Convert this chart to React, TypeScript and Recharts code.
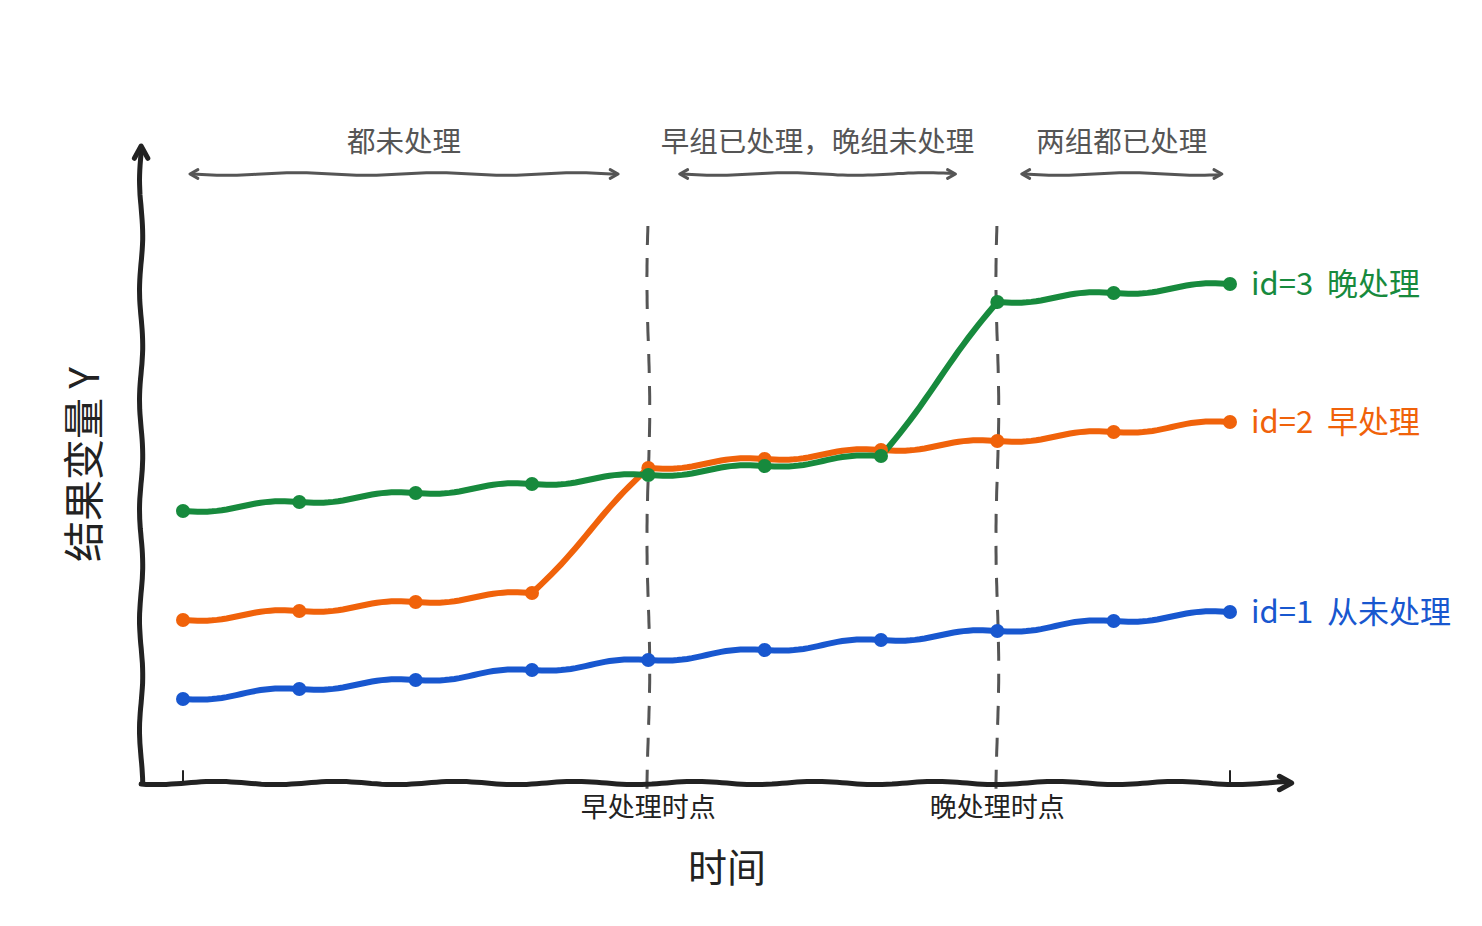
import { LineChart, Line, XAxis, YAxis, ReferenceLine, LabelList } from "recharts";

// periods and outcome per unit
const periods = [0, 1, 2, 3, 4, 5, 6, 7, 8, 9];
const neverTreated = [8.4, 9.4, 10.3, 11.3, 12.3, 13.3, 14.3, 15.2, 16.2, 17.1];
const earlyTreated = [16.3, 17.2, 18.1, 19.0, 31.5, 32.4, 33.3, 34.2, 35.1, 36.1];
const lateTreated = [27.2, 28.1, 29.0, 29.9, 30.8, 31.7, 32.7, 48.1, 49.0, 49.9];
const seriesNames = ["id=1  从未处理", "id=2  早处理", "id=3  晚处理"];

const eventTimes = [4, 7];
const eventLabels = ["早处理时点", "晚处理时点"];
const phaseLabels = ["都未处理", "早组已处理，晚组未处理", "两组都已处理"];
const phaseStarts = [0.06, 4.27, 7.21];
const phaseEnds = [3.74, 6.64, 8.93];

const data = periods.map((t, i) => ({
    t,
    never: neverTreated[i],
    early: earlyTreated[i],
    late: lateTreated[i],
}));

const FONT = '"Noto Sans CJK SC", "Noto Sans", sans-serif';
const INK = "#222222";
const GREY = "#555555";
const BLUE = "#1857cf";
const ORANGE = "#f0620a";
const GREEN = "#178a3d";

// hand drawn looking path between two points
function wobble(x1: number, y1: number, x2: number, y2: number, amp: number, wave: number, phase = 0) {
    const dx = x2 - x1;
    const dy = y2 - y1;
    const len = Math.hypot(dx, dy) || 1;
    const nx = -dy / len;
    const ny = dx / len;
    const n = Math.max(2, Math.round(len / 5));
    let d = "";
    for (let i = 0; i <= n; i++) {
        const t = i / n;
        const off = amp * Math.sin((2 * Math.PI * t * len) / wave + phase);
        const x = x1 + dx * t + nx * off;
        const y = y1 + dy * t + ny * off;
        d += (i === 0 ? "M" : "L") + x.toFixed(1) + "," + y.toFixed(1);
    }
    return d;
}

// d3 style curve: straight segments with a small sketchy wave
function sketchCurve(context: any) {
    let n = 0;
    let px = 0;
    let py = 0;
    return {
        areaStart() {},
        areaEnd() {},
        lineStart() {
            n = 0;
        },
        lineEnd() {},
        point(x: number, y: number) {
            x = +x;
            y = +y;
            if (n === 0) {
                context.moveTo(x, y);
            } else {
                const steps = 24;
                for (let i = 1; i <= steps; i++) {
                    const t = i / steps;
                    const off = 2.6 * Math.sin(2 * Math.PI * t);
                    context.lineTo(px + (x - px) * t, py + (y - py) * t + off);
                }
            }
            px = x;
            py = y;
            n++;
        },
    };
}

function head(tx: number, ty: number, fx: number, fy: number, size: number) {
    const a = Math.atan2(ty - fy, tx - fx);
    const s = 0.5;
    const ax = tx - size * Math.cos(a - s);
    const ay = ty - size * Math.sin(a - s);
    const bx = tx - size * Math.cos(a + s);
    const by = ty - size * Math.sin(a + s);
    return `M${ax},${ay}L${tx},${ty}L${bx},${by}`;
}

const XAxisShape = (p: any) => (
    <g>
        <path d={wobble(p.x1, p.y1, p.x2 - 4, p.y2, 1.6, 120, 0.8)} stroke={INK} strokeWidth={5} fill="none" strokeLinecap="round" />
        <path d={head(p.x2, p.y2, p.x1, p.y1, 14)} stroke={INK} strokeWidth={5} fill="none" strokeLinecap="round" strokeLinejoin="round" />
        <text x={p.x1 + 586} y={p.y1 + 82} textAnchor="middle" dominantBaseline="central" fontSize={39} fill={INK} fontFamily={FONT}>
            时间
        </text>
    </g>
);

const YAxisShape = (p: any) => {
    const bottom = Math.max(p.y1, p.y2);
    const top = Math.min(p.y1, p.y2);
    const cx = p.x1 - 60;
    const cy = (top + bottom) / 2;
    return (
        <g>
            <path d={wobble(p.x1, bottom, p.x1, top + 4, 1.6, 110, 1.7)} stroke={INK} strokeWidth={5} fill="none" strokeLinecap="round" />
            <path d={head(p.x1, top, p.x1, bottom, 14)} stroke={INK} strokeWidth={5} fill="none" strokeLinecap="round" strokeLinejoin="round" />
            <text
                x={cx}
                y={cy}
                textAnchor="middle"
                dominantBaseline="central"
                fontSize={41}
                fill={INK}
                fontFamily={FONT}
                transform={`rotate(-90 ${cx} ${cy})`}
                style={{ whiteSpace: "pre" }}
            >
                结果变量 Y
            </text>
        </g>
    );
};

const TickShape = (p: any) => (
    <path d={`M${p.x1},${p.y1}L${p.x2},${p.y2}`} stroke={INK} strokeWidth={2} strokeLinecap="round" />
);

const makeEventShape = (label: string) => (p: any) => {
    const bottom = Math.max(p.y1, p.y2);
    const top = Math.min(p.y1, p.y2);
    return (
        <g>
            <path d={wobble(p.x1, top, p.x1, bottom, 1.4, 260, 0.3)} stroke={GREY} strokeWidth={3} fill="none" strokeDasharray="19 13" />
            <text x={p.x1} y={bottom + 13} textAnchor="middle" dominantBaseline="central" fontSize={27} fill={INK} fontFamily={FONT}>
                {label}
            </text>
        </g>
    );
};

const makePhaseShape = (label: string) => (p: any) => {
    const left = Math.min(p.x1, p.x2);
    const right = Math.max(p.x1, p.x2);
    return (
        <g>
            <path d={wobble(left + 2, p.y1, right - 2, p.y1, 1.3, 140, 0)} stroke={GREY} strokeWidth={3} fill="none" strokeLinecap="round" />
            <path d={head(left, p.y1, right, p.y1, 9)} stroke={GREY} strokeWidth={3} fill="none" strokeLinecap="round" strokeLinejoin="round" />
            <path d={head(right, p.y1, left, p.y1, 9)} stroke={GREY} strokeWidth={3} fill="none" strokeLinecap="round" strokeLinejoin="round" />
            <text x={(left + right) / 2} y={p.y1 - 35} textAnchor="middle" dominantBaseline="central" fontSize={28.5} fill={GREY} fontFamily={FONT}>
                {label}
            </text>
        </g>
    );
};

const endLabel = (name: string, color: string, values: number[]) => (p: any) => {
    const last = values.length - 1;
    if (p.index !== undefined ? p.index !== last : p.value !== values[last]) return null;
    return (
        <text x={p.x + 21} y={p.y - 3} dominantBaseline="central" fontSize={31} fill={color} fontFamily={FONT} style={{ whiteSpace: "pre" }}>
            {name}
        </text>
    );
};

export default function App() {
    const axisX = -0.36;
    const axisTop = 63.7;
    const axisRight = 9.53;
    return (
        <div style={{ width: 1466, height: 910, background: "#ffffff" }}>
            <LineChart width={1466} height={910} data={data} margin={{ top: 140, right: 244, bottom: 135, left: 175 }}>
                <XAxis dataKey="t" type="number" domain={[0, 9]} hide />
                <YAxis type="number" domain={[0, 63.5]} hide />

                {phaseLabels.map((label, i) => (
                    <ReferenceLine
                        key={label}
                        segment={[
                            { x: phaseStarts[i], y: 60.9 },
                            { x: phaseEnds[i], y: 60.9 },
                        ]}
                        ifOverflow="visible"
                        shape={makePhaseShape(label)}
                    />
                ))}

                {eventTimes.map((t, i) => (
                    <ReferenceLine
                        key={t}
                        segment={[
                            { x: t, y: 55.7 },
                            { x: t, y: -0.9 },
                        ]}
                        ifOverflow="visible"
                        shape={makeEventShape(eventLabels[i])}
                    />
                ))}

                {[periods[0], periods[periods.length - 1]].map((t) => (
                    <ReferenceLine
                        key={"tick" + t}
                        segment={[
                            { x: t, y: 0 },
                            { x: t, y: 1.2 },
                        ]}
                        ifOverflow="visible"
                        shape={TickShape}
                    />
                ))}

                <ReferenceLine
                    segment={[
                        { x: axisX, y: 0 },
                        { x: axisRight, y: 0 },
                    ]}
                    ifOverflow="visible"
                    shape={XAxisShape}
                />
                <ReferenceLine
                    segment={[
                        { x: axisX, y: 0 },
                        { x: axisX, y: axisTop },
                    ]}
                    ifOverflow="visible"
                    shape={YAxisShape}
                />

                <Line type={sketchCurve as any} dataKey="never" stroke={BLUE} strokeWidth={6} strokeLinecap="round" dot={{ r: 7, fill: BLUE, stroke: "none" }} isAnimationActive={false}>
                    <LabelList dataKey="never" content={endLabel(seriesNames[0], BLUE, neverTreated)} />
                </Line>
                <Line type={sketchCurve as any} dataKey="early" stroke={ORANGE} strokeWidth={6} strokeLinecap="round" dot={{ r: 7, fill: ORANGE, stroke: "none" }} isAnimationActive={false}>
                    <LabelList dataKey="early" content={endLabel(seriesNames[1], ORANGE, earlyTreated)} />
                </Line>
                <Line type={sketchCurve as any} dataKey="late" stroke={GREEN} strokeWidth={6} strokeLinecap="round" dot={{ r: 7, fill: GREEN, stroke: "none" }} isAnimationActive={false}>
                    <LabelList dataKey="late" content={endLabel(seriesNames[2], GREEN, lateTreated)} />
                </Line>
            </LineChart>
        </div>
    );
}
